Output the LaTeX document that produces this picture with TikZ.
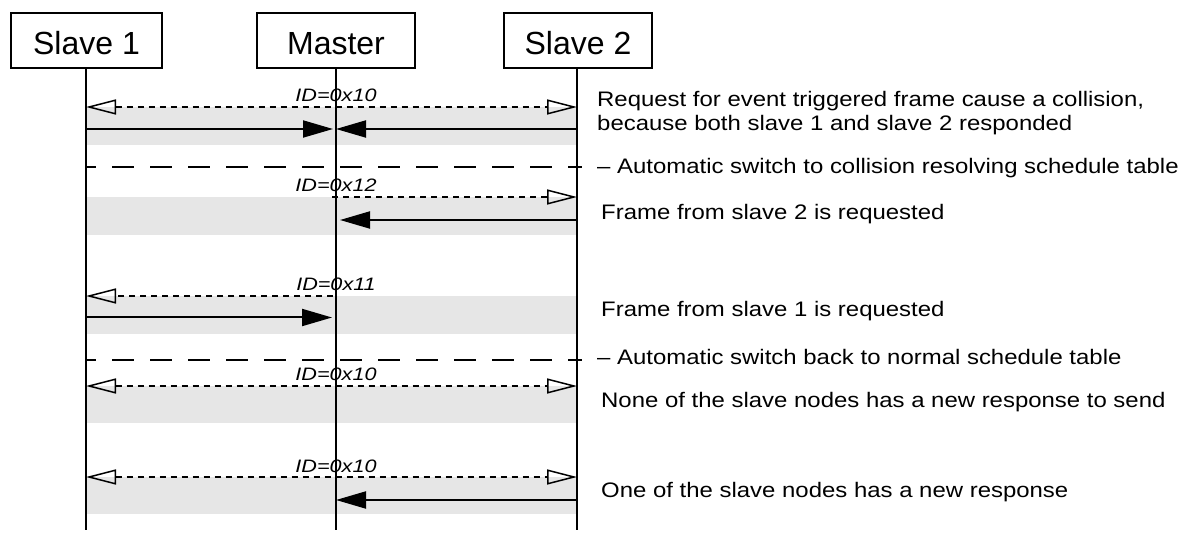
\documentclass[tikz,border=0pt]{standalone}
\usepackage{fontspec}
\setmainfont{Liberation Sans}
\newfontfamily\notefont[FakeStretch=1.14]{Liberation Sans}
\newfontfamily\idfont[FakeStretch=1.2]{Liberation Sans}
\usetikzlibrary{arrows.meta}
\definecolor{band}{RGB}{230,230,230}
\begin{document}
\begin{tikzpicture}[x=1pt,y=-1pt,
  actor/.style={draw,line width=2pt,minimum height=55pt,inner sep=0pt,
    text height=29pt,text depth=0pt,font=\fontsize{32}{32}\selectfont},
  life/.style={line width=2pt},
  req/.style={line width=1.8pt,dash pattern=on 6pt off 5pt},
  openhead/.style={-{Triangle[open,length=30pt,width=15pt,line width=1.5pt]}},
  bothopen/.style={{Triangle[open,length=30pt,width=15pt,line width=1.5pt]}-{Triangle[open,length=30pt,width=15pt,line width=1.5pt]}},
  resp/.style={line width=2pt,-{Triangle[length=30pt,width=17pt]}},
  sep/.style={line width=2pt,dash pattern=on 22pt off 16pt,dash phase=12pt},
  idlab/.style={anchor=base,inner sep=0pt,font=\idfont\itshape\fontsize{18}{18}\selectfont},
  note/.style={anchor=base west,inner sep=0pt,font=\notefont\fontsize{21}{24}\selectfont},
  bandfill/.style={fill=band}
]
\useasboundingbox (0,0) rectangle (1181,534);

% row coordinates
\coordinate (r1) at (0,107);  \coordinate (b1) at (0,145); \coordinate (a1) at (0,129);
\coordinate (r2) at (0,197);  \coordinate (b2) at (0,235); \coordinate (a2) at (0,220);
\coordinate (r3) at (0,296);  \coordinate (b3) at (0,334); \coordinate (a3) at (0,317.5);
\coordinate (r4) at (0,386);  \coordinate (b4) at (0,423);
\coordinate (r5) at (0,477);  \coordinate (b5) at (0,514); \coordinate (a5) at (0,500);
\coordinate (d1) at (0,167);  \coordinate (d2) at (0,360);
\coordinate (bot) at (0,530);

% actors
\node[actor,minimum width=151pt] (s1) at (86.5,40.5) {Slave 1};
\node[actor,minimum width=158pt] (m) at (336,40.5) {Master};
\node[actor,minimum width=148pt] (s2) at (578,40.5) {Slave 2};

% lifeline x coordinates
\coordinate (x1) at (86,0);
\coordinate (xm) at (336,0);
\coordinate (x2) at (577,0);

% bands
\fill[bandfill] (x1 |- r1) rectangle (x2 |- b1);
\fill[bandfill] (x1 |- r2) rectangle (x2 |- b2);
\fill[bandfill] (x1 |- r3) rectangle (x2 |- b3);
\fill[bandfill] (x1 |- r4) rectangle (x2 |- b4);
\fill[bandfill] (x1 |- r5) rectangle (x2 |- b5);

% id labels
\node[idlab] (l1) at ([yshift=5pt]xm |- r1) {ID=0x10};
\node[idlab] (l2) at ([yshift=5pt]xm |- r2) {ID=0x12};
\node[idlab] (l3) at ([yshift=5pt]xm |- r3) {ID=0x11};
\node[idlab] (l4) at ([yshift=5pt]xm |- r4) {ID=0x10};
\node[idlab] (l5) at ([yshift=5pt]xm |- r5) {ID=0x10};

% lifelines
\draw[life] (x1 |- s1.south) -- (x1 |- bot);
\draw[life] (xm |- m.south) -- (xm |- bot);
\draw[life] (x2 |- s2.south) -- (x2 |- bot);

% row 1
\draw[req,bothopen] (x1 |- r1) -- (x2 |- r1);
\draw[resp] (x1 |- a1) -- ([xshift=-3pt]xm |- a1);
\draw[resp] (x2 |- a1) -- ([xshift=0pt]xm |- a1);

% separator 1
\draw[sep] (x1 |- d1) -- ([xshift=5pt]x2 |- d1);

% row 2
\draw[req,openhead] ([xshift=-4pt]xm |- r2) -- (x2 |- r2);
\draw[resp] (x2 |- a2) -- ([xshift=4pt]xm |- a2);

% row 3
\draw[req,openhead] ([xshift=-3pt]xm |- r3) -- (x1 |- r3);
\draw[resp] (x1 |- a3) -- ([xshift=-4pt]xm |- a3);

% separator 2
\draw[sep] (x1 |- d2) -- ([xshift=5pt]x2 |- d2);

% row 4
\draw[req,bothopen] (x1 |- r4) -- (x2 |- r4);

% row 5
\draw[req,bothopen] (x1 |- r5) -- (x2 |- r5);
\draw[resp] (x2 |- a5) -- ([xshift=0pt]xm |- a5);

% notes
\node[note] (n1) at (597,106.5) {Request for event triggered frame cause a collision,};
\node[note] (n1b) at (597,130.5) {because both slave 1 and slave 2 responded};
\node[note] (n2) at (597,174) {– Automatic switch to collision resolving schedule table};
\node[note] (n3) at (601,220) {Frame from slave 2 is requested};
\node[note] (n4) at (601,316.5) {Frame from slave 1 is requested};
\node[note] (n5) at (597,365) {– Automatic switch back to normal schedule table};
\node[note] (n6) at (601,408) {None of the slave nodes has a new response to send};
\node[note] (n7) at (601,497.5) {One of the slave nodes has a new response};
\end{tikzpicture}
\end{document}
